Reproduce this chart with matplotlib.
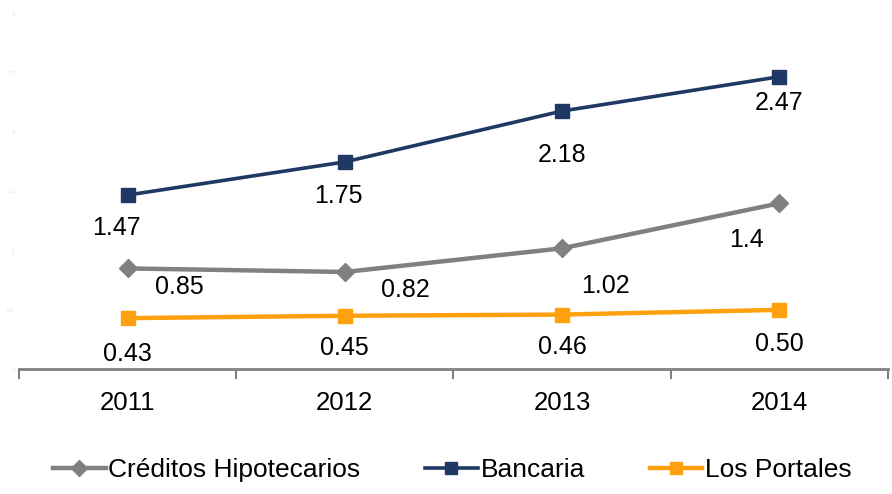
import numpy as np
import matplotlib.pyplot as plt

plt.rcParams['font.family'] = ['Liberation Sans', 'DejaVu Sans']

years = ['2011', '2012', '2013', '2014']
creditos = [0.85, 0.82, 1.02, 1.4]
bancaria = [1.47, 1.75, 2.18, 2.47]
portales = [0.43, 0.45, 0.46, 0.50]

creditos_lbl = ['0.85', '0.82', '1.02', '1.4']
bancaria_lbl = ['1.47', '1.75', '2.18', '2.47']
portales_lbl = ['0.43', '0.45', '0.46', '0.50']

# label offsets (x in category units, y in data units)
cred_off = [(0.24, -0.16), (0.28, -0.15), (0.2, -0.32), (-0.15, -0.31)]
banc_off = [(-0.05, -0.28), (-0.03, -0.29), (0.0, -0.37), (0.0, -0.22)]
port_off = [(0.0, -0.30), (0.0, -0.27), (0.0, -0.27), (0.0, -0.29)]

fig = plt.figure(figsize=(8.92, 4.94), dpi=100)
ax = fig.add_axes([0.0213, 0.253, 0.9742, 0.7187])

x = np.arange(len(years))
ax.plot(x, creditos, color='#808080', lw=3.2, marker='D', ms=9, label='Créditos Hipotecarios')
ax.plot(x, bancaria, color='#1f3864', lw=2.6, marker='s', ms=9.5, label='Bancaria')
ax.plot(x, portales, color='#ffa00f', lw=3.2, marker='s', ms=9.5, label='Los Portales')

for vals, lbls, offs in [(creditos, creditos_lbl, cred_off),
                         (bancaria, bancaria_lbl, banc_off),
                         (portales, portales_lbl, port_off)]:
    for i, (v, s) in enumerate(zip(vals, lbls)):
        ax.text(i + offs[i][0], v + offs[i][1], s, ha='center', va='center', fontsize=18)

ax.set_xlim(-0.5, 3.5)
ax.set_ylim(0, 3)
ax.set_xticks(x)
ax.set_xticklabels(years, fontsize=18.5)
ax.set_xticks(np.arange(-0.5, 3.6, 1), minor=True)
ax.tick_params(axis='x', which='major', length=0, pad=16)
ax.tick_params(axis='x', which='minor', length=7, width=1.5, color='#808080')

ax.set_yticks(np.arange(0, 3.1, 0.5))
ax.set_yticklabels(['0', '0.5', '1', '1.5', '2', '2.5', '3'])
ax.tick_params(axis='y', length=0, labelsize=4, labelcolor='#dde3ec', pad=3)

for s in ['top', 'right', 'left']:
    ax.spines[s].set_visible(False)
ax.spines['bottom'].set_color('#808080')
ax.spines['bottom'].set_linewidth(2)

fig.legend(loc='center', bbox_to_anchor=(0.507, 0.048), ncol=3, frameon=False,
           fontsize=19, handlelength=2.0, handletextpad=0.1, columnspacing=2.45,
           markerscale=0.85)

fig.savefig('out.png', dpi=100)
